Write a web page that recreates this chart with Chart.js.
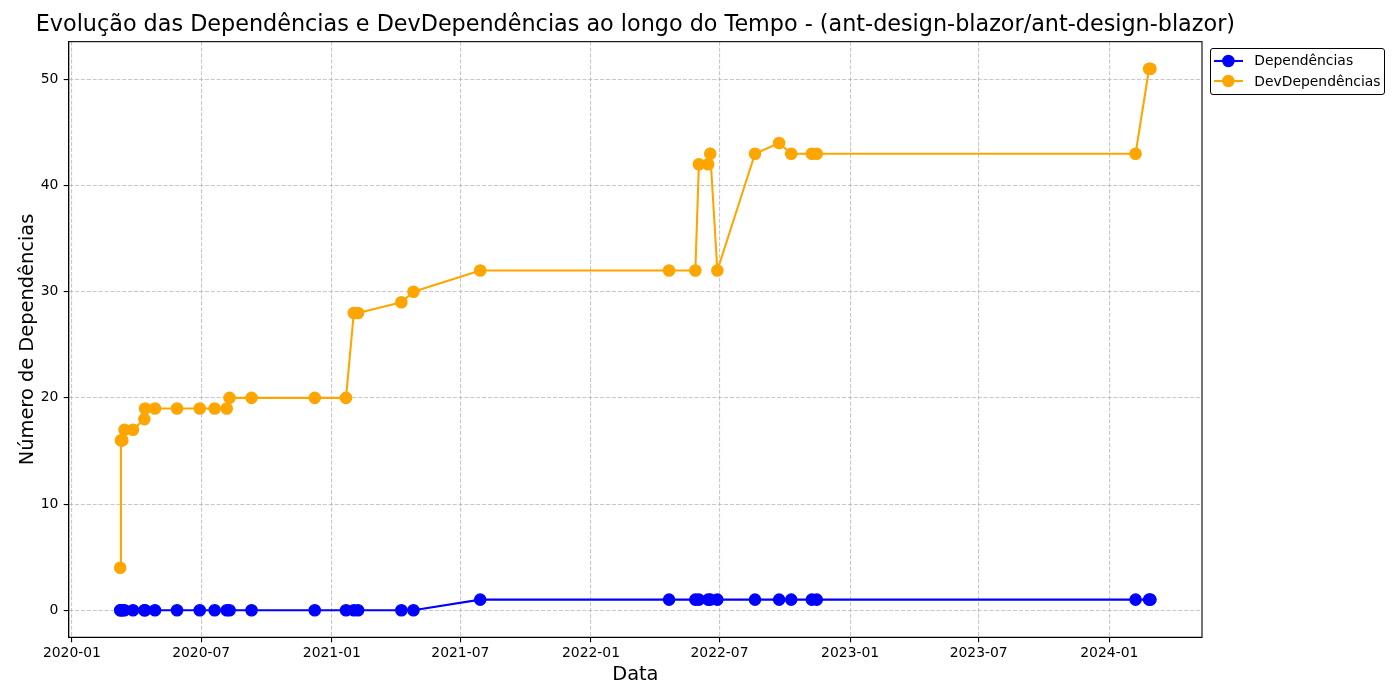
<!DOCTYPE html>
<html>
<head>
<meta charset="utf-8">
<script src="https://cdn.jsdelivr.net/npm/chart.js@4.4.1/dist/chart.umd.min.js"></script>
<style>
html,body{margin:0;padding:0;background:#fff;}
#wrap{position:relative;width:1400px;height:700px;}
#legend{position:absolute;left:1210px;top:48.3px;width:175.3px;height:46.7px;border:1px solid #000;border-radius:3px;box-sizing:border-box;background:rgba(255,255,255,0.8);font-family:'DejaVu Sans';font-size:13.9px;color:#000;}
#legend .h{position:absolute;left:2.3px;width:30px;height:16px;}
#legend .t{position:absolute;left:43.3px;line-height:16.2px;white-space:nowrap;}
</style>
</head>
<body>
<div id="wrap">
<canvas id="c" width="1400" height="700"></canvas>
<div id="legend"></div>
</div>
<script>
const dates = ['2020-03-09','2020-03-10','2020-03-12','2020-03-15','2020-03-27','2020-04-12','2020-04-13','2020-04-27','2020-05-28','2020-06-29','2020-07-20','2020-08-06','2020-08-10','2020-09-10','2020-12-08','2021-01-21','2021-02-01','2021-02-07','2021-04-09','2021-04-26','2021-07-29','2022-04-21','2022-05-28','2022-06-02','2022-06-15','2022-06-18','2022-06-28','2022-08-20','2022-09-23','2022-10-10','2022-11-08','2022-11-15','2024-02-07','2024-02-26','2024-02-28'];
const deps = [0,0,0,0,0,0,0,0,0,0,0,0,0,0,0,0,0,0,0,0,1,1,1,1,1,1,1,1,1,1,1,1,1,1,1];
const devDeps = [4,16,16,17,17,18,19,19,19,19,19,19,20,20,20,20,28,28,29,30,32,32,32,42,42,43,32,43,44,43,43,43,43,51,51];
const xTickLabels = ['2020-01','2020-07','2021-01','2021-07','2022-01','2022-07','2023-01','2023-07','2024-01'];
const yTickValues = [0,10,20,30,40,50];
const seriesNames = ['Dependências','DevDependências'];
const seriesColors = ['#0000ff','#ffa500'];

function ts(s){ const p = s.split('-').map(Number); return Date.UTC(p[0], p[1]-1, p[2] || 1); }
const xs = dates.map(ts);
const xTickValues = xTickLabels.map(ts);
const dMin = Math.min(...xs), dMax = Math.max(...xs);
const xMin = dMin - (dMax - dMin) * 0.05, xMax = dMax + (dMax - dMin) * 0.05;
const allY = deps.concat(devDeps);
const yLo = Math.min(...allY), yHi = Math.max(...allY);
const yMin = yLo - (yHi - yLo) * 0.05, yMax = yHi + (yHi - yLo) * 0.05;

Chart.defaults.font.family = "'DejaVu Sans'";
Chart.defaults.color = '#000';

const framePlugin = {
  id: 'frame',
  afterLayout(chart){
    // center the title over the plot area, with room for the full text
    const tb = chart.titleBlock;
    if (tb) {
      const a = chart.chartArea;
      const c = (a.left + a.right) / 2;
      tb.left = 0; tb.right = 2 * c; tb.width = 2 * c;
    }
  },
  afterDraw(chart){
    const {ctx, chartArea: a} = chart;
    ctx.save();
    ctx.strokeStyle = '#000';
    ctx.lineWidth = 1.1;
    ctx.strokeRect(a.left, a.top, a.right - a.left, a.bottom - a.top);
    ctx.restore();
  }
};

function mkSet(i, vals){
  return {
    label: seriesNames[i],
    data: xs.map((x, k) => ({x: x, y: vals[k]})),
    borderColor: seriesColors[i],
    backgroundColor: seriesColors[i],
    pointBackgroundColor: seriesColors[i],
    pointBorderColor: seriesColors[i],
    borderWidth: 2.08,
    pointRadius: 5.6,
    pointHoverRadius: 5.6,
    pointBorderWidth: 1.39,
    tension: 0,
    fill: false
  };
}

const gridCommon = {color: 'rgba(176,176,176,0.7)', lineWidth: 1.1, tickLength: 5, tickColor: '#000', tickWidth: 1.1};
const borderCommon = {display: true, color: '#000', width: 1.1, dash: [4.1, 1.8]};

new Chart(document.getElementById('c'), {
  type: 'line',
  data: { datasets: [mkSet(0, deps), mkSet(1, devDeps)] },
  options: {
    responsive: false,
    animation: false,
    devicePixelRatio: 1,
    layout: { padding: {left: 0, right: 198, top: 0, bottom: 0} },
    plugins: {
      legend: { display: false },
      tooltip: { enabled: false },
      title: {
        display: true,
        text: 'Evolução das Dependências e DevDependências ao longo do Tempo - (ant-design-blazor/ant-design-blazor)',
        fullSize: true,
        font: {size: 22.3, weight: 'normal'},
        color: '#000',
        padding: {top: 12.3, bottom: 2.6}
      }
    },
    scales: {
      x: {
        type: 'linear',
        min: xMin, max: xMax, bounds: 'data',
        afterBuildTicks: s => { s.ticks = xTickValues.map(v => ({value: v})); },
        afterFit: s => { s.height = 62.7; },
        ticks: {
          autoSkip: false, maxRotation: 0, minRotation: 0, padding: 2.6,
          font: {size: 13.9}, color: '#000',
          callback: (v, i) => xTickLabels[i]
        },
        grid: gridCommon,
        border: borderCommon,
        title: {display: true, text: 'Data', font: {size: 19.4}, color: '#000', padding: {top: 0, bottom: 13.2}}
      },
      y: {
        type: 'linear',
        min: yMin, max: yMax, bounds: 'data',
        afterBuildTicks: s => { s.ticks = yTickValues.map(v => ({value: v})); },
        afterFit: s => { s.width = 68.7; },
        ticks: {
          padding: 5.3, font: {size: 13.9}, color: '#000',
          callback: (v) => String(v)
        },
        grid: gridCommon,
        border: borderCommon,
        title: {display: true, text: 'Número de Dependências', font: {size: 19.4}, color: '#000', padding: {top: 15.9, bottom: 0}}
      }
    }
  },
  plugins: [framePlugin]
});

// legend (HTML)
const lg = document.getElementById('legend');
const rowCenters = [11.4, 32.0];
const textTops = [2.8, 23.5];
seriesNames.forEach((name, i) => {
  const svgNS = 'http://www.w3.org/2000/svg';
  const svg = document.createElementNS(svgNS, 'svg');
  svg.setAttribute('class', 'h');
  svg.setAttribute('width', '30');
  svg.setAttribute('height', '16');
  svg.style.top = (rowCenters[i] - 8) + 'px';
  const ln = document.createElementNS(svgNS, 'line');
  ln.setAttribute('x1', '1'); ln.setAttribute('x2', '30.4');
  ln.setAttribute('y1', '8'); ln.setAttribute('y2', '8');
  ln.setAttribute('stroke', seriesColors[i]); ln.setAttribute('stroke-width', '2.08');
  const c = document.createElementNS(svgNS, 'circle');
  c.setAttribute('cx', '15.4'); c.setAttribute('cy', '8'); c.setAttribute('r', '5.55');
  c.setAttribute('fill', seriesColors[i]); c.setAttribute('stroke', seriesColors[i]); c.setAttribute('stroke-width', '1.39');
  svg.appendChild(ln); svg.appendChild(c);
  lg.appendChild(svg);
  const t = document.createElement('div');
  t.className = 't';
  t.style.top = textTops[i] + 'px';
  t.textContent = name;
  lg.appendChild(t);
});
</script>
</body>
</html>
